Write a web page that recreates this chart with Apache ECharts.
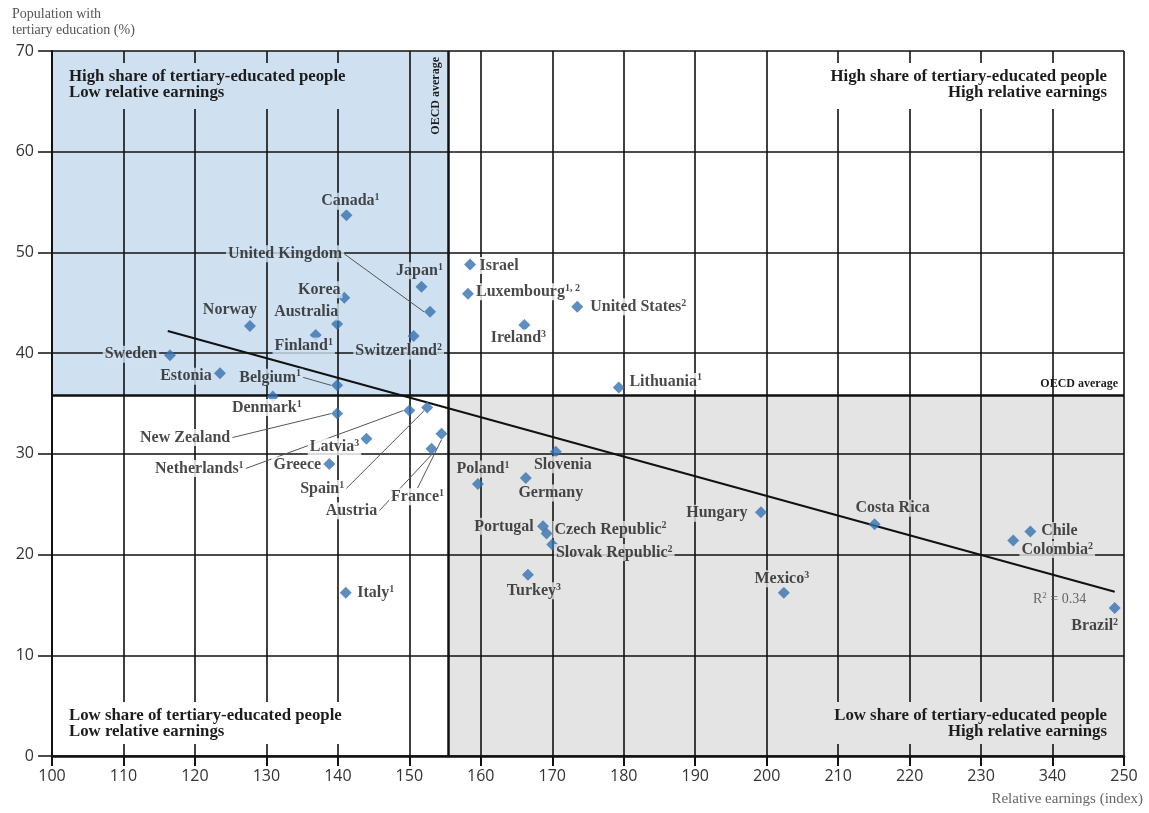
<!DOCTYPE html>
<html>
<head>
<meta charset="utf-8">
<script src="https://cdn.jsdelivr.net/npm/echarts@6/dist/echarts.min.js"></script>
<style>
html,body{margin:0;padding:0;background:#fff;}
#chart{width:1149px;height:813px;}
</style>
</head>
<body>
<div id="chart"></div>
<script>
// ---------------- DATA ----------------
const countries = ['Canada','United Kingdom','Japan','Korea','Australia','Norway','Finland','Switzerland','Sweden','Estonia',
  'Belgium','Denmark','New Zealand','Netherlands','Latvia','Greece','Spain','Austria','France','Italy',
  'Israel','Luxembourg','United States','Ireland','Lithuania','Slovenia','Poland','Germany','Portugal','Czech Republic',
  'Slovak Republic','Turkey','Hungary','Costa Rica','Chile','Colombia','Mexico','Brazil'];
const notes = ['1','','1','','','','1','2','','',
  '1','1','','1','3','','1','','1','1',
  '','1, 2','2','3','1','','1','','','2',
  '2','3','','','','2','3','2'];
const earnings = [141.2,152.9,151.7,140.9,139.9,127.7,136.9,150.6,116.5,123.5,
  139.9,130.9,139.9,150.0,144.0,138.8,152.5,153.1,154.5,141.1,
  158.5,158.2,173.5,166.1,179.3,170.5,159.6,166.3,168.7,169.2,
  170.0,166.6,199.2,215.1,236.9,234.5,202.4,248.7];
const tertiary = [53.7,44.1,46.6,45.5,42.9,42.7,41.8,41.7,39.8,38.0,
  36.8,35.7,34.0,34.3,31.5,29.0,34.6,30.5,32.0,16.2,
  48.8,45.9,44.6,42.8,36.6,30.2,27.0,27.6,22.8,22.1,
  21.0,18.0,24.2,23.0,22.3,21.4,16.2,14.7];
const xTickLabels = ['100','110','120','130','140','150','160','170','180','190','200','210','220','230','340','250'];
const oecdEarnings = 155.4;
const oecdTertiary = 35.8;
const trendX = [116.2, 248.7];
const trendY = [42.2, 16.3];
const rSquared = '0.34';
const quadrantTexts = [
  'High share of tertiary-educated people\nLow relative earnings',
  'High share of tertiary-educated people\nHigh relative earnings',
  'Low share of tertiary-educated people\nLow relative earnings',
  'Low share of tertiary-educated people\nHigh relative earnings'
];

// ---------------- LAYOUT / STYLE ----------------
const xMin = 100, xMax = 250, xStep = 10;
const yMin = 0, yMax = 70, yStep = 10;
const blueFill = '#cfe1f1';
const greyFill = '#e4e4e4';
const serif = 'Liberation Serif';
const textColor = '#1c1c1c';

// label offsets (label centre relative to marker centre, in px)
const labelOffsets = {
  'Canada':[4,-14], 'United Kingdom':[-145,-58], 'Japan':[-2,-16], 'Korea':[-25,-8], 'Australia':[-31,-12],
  'Norway':[-20,-16], 'Finland':[-12,11], 'Switzerland':[-15,15], 'Sweden':[-39,-1], 'Estonia':[-34,3],
  'Belgium':[-67,-8], 'Denmark':[-6,11], 'New Zealand':[-152,24], 'Netherlands':[-210,58], 'Latvia':[-32,8],
  'Greece':[-32,1], 'Spain':[-105,81], 'Austria':[-80,62], 'France':[-24,63], 'Italy':[30,0],
  'Israel':[29,1], 'Luxembourg':[60,-2], 'United States':[61,0], 'Ireland':[-6,13], 'Lithuania':[47,-6],
  'Slovenia':[7,13], 'Poland':[5,-15], 'Germany':[25,15], 'Portugal':[-39,0], 'Czech Republic':[64,-4],
  'Slovak Republic':[62,8], 'Turkey':[6,16], 'Hungary':[-44,1], 'Costa Rica':[18,-16], 'Chile':[29,-1],
  'Colombia':[44,9], 'Mexico':[-2,-14], 'Brazil':[-20,18]
};
const leaderNames = ['United Kingdom','Belgium','New Zealand','Netherlands','Spain','Austria','France'];

const noteOf = {};
countries.forEach((c, i) => { noteOf[c] = notes[i]; });

function makeItem(i) {
  const x = earnings[i], y = tertiary[i];
  const inBlue = x < oecdEarnings && y > oecdTertiary;
  const inGrey = x > oecdEarnings && y < oecdTertiary;
  return {
    name: countries[i],
    value: [x, y],
    label: { backgroundColor: inBlue ? blueFill : (inGrey ? greyFill : '#ffffff') }
  };
}
const plainData = [], leaderData = [];
countries.forEach((c, i) => {
  (leaderNames.indexOf(c) >= 0 ? leaderData : plainData).push(makeItem(i));
});

const richLabel = {
  t: { fontFamily: serif, fontWeight: 'bold', fontSize: 16, color: textColor, lineHeight: 17 },
  s: { fontFamily: serif, fontWeight: 'bold', fontSize: 10, color: textColor, lineHeight: 10, verticalAlign: 'top' }
};
function labelFormatter(p) {
  const n = noteOf[p.name];
  return '{t|' + p.name + '}' + (n ? '{s|' + n + '}' : '');
}
function makeLayout(arr) {
  return function (params) {
    const o = labelOffsets[arr[params.dataIndex].name] || [0, 0];
    return { dx: o[0], dy: o[1] };
  };
}

const quadText = { fontFamily: serif, fontWeight: 'bold', fontSize: 16.8, color: textColor, lineHeight: 16 };

const chart = echarts.init(document.getElementById('chart'), null, { renderer: 'canvas' });
chart.setOption({
  animation: false,
  backgroundColor: '#ffffff',
  grid: { left: 52, right: 25, top: 51, bottom: 57, containLabel: false },
  xAxis: {
    type: 'value', min: xMin, max: xMax, interval: xStep, z: 3,
    axisLine: { show: true, onZero: false, lineStyle: { color: '#111', width: 2.5 } },
    axisTick: { show: true, length: 10, lineStyle: { color: '#111', width: 2 } },
    axisLabel: {
      margin: 12, fontFamily: 'Open Sans', fontSize: 16, color: '#333',
      formatter: v => xTickLabels[Math.round((v - xMin) / xStep)]
    },
    splitLine: { show: true, lineStyle: { color: '#111', width: 1.6 } }
  },
  yAxis: {
    type: 'value', min: yMin, max: yMax, interval: yStep, z: 3,
    axisLine: { show: true, onZero: false, lineStyle: { color: '#111', width: 2 } },
    axisTick: { show: true, length: 14, lineStyle: { color: '#111', width: 1.5 } },
    axisLabel: { margin: 18, fontFamily: 'Open Sans', fontSize: 16, color: '#333' },
    splitLine: { show: true, lineStyle: { color: '#111', width: 1.6 } }
  },
  graphic: [
    { type: 'text', left: 12, top: 6, style: { text: 'Population with\ntertiary education (%)', font: '14px "Liberation Serif"', fill: '#555', lineHeight: 16 } },
    { type: 'text', right: 6, top: 792, style: { text: 'Relative earnings (index)', font: '15px "Liberation Serif"', fill: '#666', textAlign: 'right' } }
  ],
  series: [
    { // shaded quadrants
      type: 'scatter', data: [], z: 1, silent: true,
      markArea: {
        silent: true, z: 1,
        data: [
          [{ coord: [xMin, oecdTertiary], itemStyle: { color: blueFill } }, { coord: [oecdEarnings, yMax] }],
          [{ coord: [oecdEarnings, yMin], itemStyle: { color: greyFill } }, { coord: [xMax, oecdTertiary] }]
        ]
      }
    },
    { // quadrant labels
      type: 'scatter', data: [], z: 6, silent: true,
      markArea: {
        silent: true, z: 6,
        itemStyle: { color: 'rgba(0,0,0,0)' },
        label: { show: true, distance: 12, ...quadText },
        data: [
          [{ coord: [xMin, oecdTertiary], label: { position: 'insideTopLeft', padding: [6, 5, 8, 5], backgroundColor: blueFill, formatter: quadrantTexts[0] } }, { coord: [oecdEarnings, yMax] }],
          [{ coord: [oecdEarnings, oecdTertiary], label: { position: 'insideTopRight', padding: [6, 5, 8, 5], backgroundColor: '#ffffff', align: 'right', formatter: quadrantTexts[1] } }, { coord: [xMax, yMax] }],
          [{ coord: [xMin, yMin], label: { position: 'insideBottomLeft', padding: [6, 5, 4, 5], backgroundColor: '#ffffff', formatter: quadrantTexts[2] } }, { coord: [oecdEarnings, oecdTertiary] }],
          [{ coord: [oecdEarnings, yMin], label: { position: 'insideBottomRight', padding: [6, 5, 4, 5], backgroundColor: greyFill, align: 'right', formatter: quadrantTexts[3] } }, { coord: [xMax, oecdTertiary] }]
        ]
      }
    },
    { // OECD average lines
      type: 'scatter', data: [], z: 6, silent: true,
      markLine: {
        silent: true, symbol: 'none', z: 6,
        lineStyle: { color: '#111', width: 2.5, type: 'solid' },
        label: { show: true, formatter: 'OECD average', position: 'insideEndTop', fontFamily: serif, fontWeight: 'bold', fontSize: 12, color: textColor, distance: 6 },
        data: [
          [{ coord: [oecdEarnings, yMin] }, { coord: [oecdEarnings, yMax] }],
          [{ coord: [xMin, oecdTertiary] }, { coord: [xMax, oecdTertiary] }]
        ]
      }
    },
    { // trend line
      type: 'line', z: 7, silent: true,
      symbol: 'circle', symbolSize: 1, showSymbol: true,
      itemStyle: { color: 'rgba(0,0,0,0)' },
      lineStyle: { color: '#111', width: 2 },
      data: [
        [trendX[0], trendY[0]],
        { value: [trendX[1], trendY[1]], label: {
            show: true, position: 'left', distance: 28, offset: [0, 7],
            formatter: '{r|R}{s|2}{r| = ' + rSquared + '}',
            rich: {
              r: { fontFamily: serif, fontSize: 14, color: '#666', lineHeight: 16 },
              s: { fontFamily: serif, fontSize: 9, color: '#666', lineHeight: 9, verticalAlign: 'top' }
            }
        } }
      ]
    },
    { // countries without leader lines
      type: 'scatter', z: 8, data: plainData,
      symbol: 'diamond', symbolSize: 12,
      itemStyle: { color: '#3572b0' },
      label: { show: true, position: 'inside', formatter: labelFormatter, rich: richLabel, padding: [0, 2] },
      labelLayout: makeLayout(plainData)
    },
    { // countries with leader lines
      type: 'scatter', z: 8, data: leaderData,
      symbol: 'diamond', symbolSize: 12,
      itemStyle: { color: '#3572b0' },
      label: { show: true, position: 'inside', formatter: labelFormatter, rich: richLabel, padding: [0, 2] },
      labelLine: { show: true, lineStyle: { color: '#555', width: 1 } },
      labelLayout: makeLayout(leaderData)
    }
  ]
});
</script>
</body>
</html>
